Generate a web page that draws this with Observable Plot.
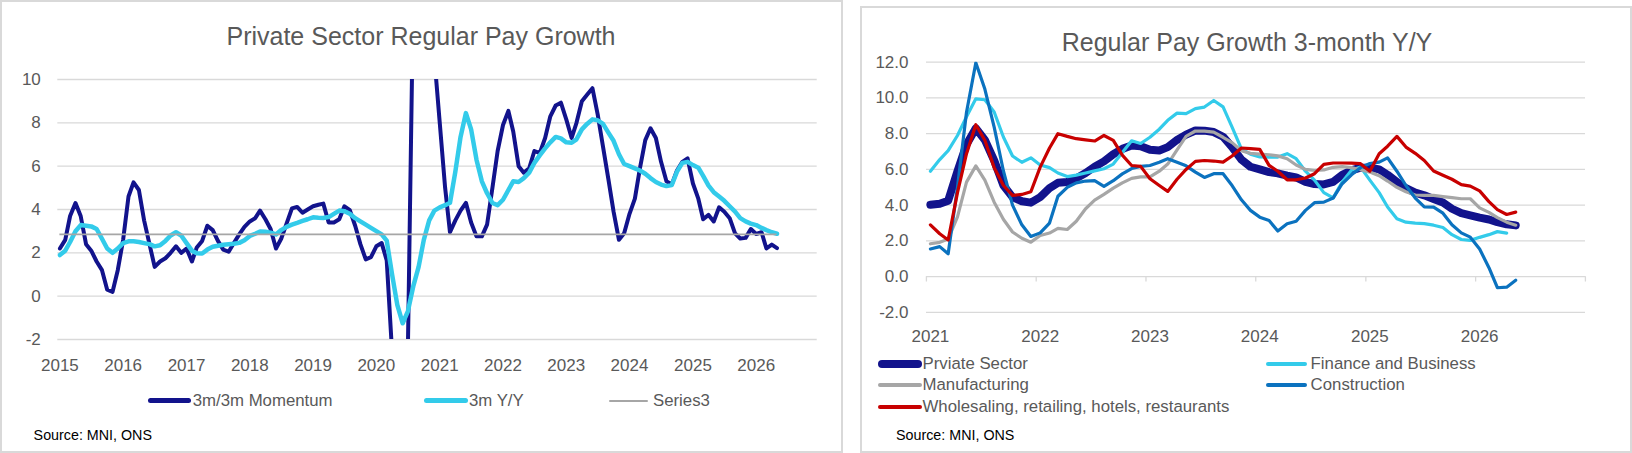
<!DOCTYPE html>
<html><head><meta charset="utf-8">
<script src="https://cdn.jsdelivr.net/npm/d3@7"></script>
<script src="https://cdn.jsdelivr.net/npm/@observablehq/plot@0.6"></script>
<style>
html,body{margin:0;padding:0;background:#fff;}
#page{position:relative;width:1632px;height:453px;overflow:hidden;font-family:"Liberation Sans",Arial,sans-serif;color:#595959;}
.panel{position:absolute;box-sizing:border-box;border:2px solid #d9d9d9;background:#fff;}
.abs{position:absolute;white-space:nowrap;}
.title{font-size:25px;line-height:30px;transform:translateX(-50%);}
.leg{font-size:16.8px;line-height:20px;}
.sw{position:absolute;border-radius:3px;}
.src{font-size:14.3px;line-height:20px;color:#000;}
#page svg{position:absolute;top:0;}
</style></head>
<body><div id="page">
<div class="panel" style="left:0;top:0;width:843px;height:453px"></div>
<div class="panel" style="left:860px;top:6px;width:772px;height:447px"></div>
<div id="leftPlot"></div>
<div id="rightPlot"></div>
<div class="abs title" style="left:421px;top:21px">Private Sector Regular Pay Growth</div>
<div class="abs title" style="left:1247px;top:27px">Regular Pay Growth 3-month Y/Y</div>
<div id="legends"></div>
</div>
<script>
// ---------- Left chart data (monthly, Jan 2015 – May 2026) ----------
const leftStart = [2015, 0];
const leftEnd = [2026, 4];
const momentum3m3m = [
 2.2,2.6,3.7,4.3,3.7,2.4,2.1,1.6,1.2,0.3,
 0.2,1.2,2.6,4.6,5.25,4.9,3.5,2.4,1.35,1.6,
 1.75,2.0,2.3,2.0,2.2,1.6,2.25,2.55,3.25,3.05,
 2.55,2.15,2.05,2.45,2.85,3.2,3.45,3.6,3.95,3.55,
 3.1,2.2,2.65,3.35,4.05,4.12,3.85,4.0,4.15,4.22,
 4.27,3.4,3.4,3.55,4.15,3.97,3.25,2.4,1.7,1.8,
 2.3,2.45,1.65,-2.6,-8,-10,-2.5,14,19,21,
 16,11,8.0,5.0,2.95,3.5,3.95,4.31,3.4,2.76,
 2.76,3.3,5.0,6.7,7.9,8.55,7.6,6.0,5.7,5.9,
 6.7,6.6,7.3,8.3,8.8,8.93,8.16,7.3,8.0,9.0,
 9.3,9.6,8.4,6.9,5.4,3.9,2.6,2.9,3.8,4.5,
 5.9,7.2,7.75,7.3,6.2,5.3,5.16,5.8,6.2,6.36,
 5.2,4.5,3.55,3.75,3.45,4.1,3.9,3.6,2.9,2.66,
 2.69,3.1,2.87,2.95,2.2,2.38,2.22];
const yoy3m = [
 1.9,2.1,2.5,3.0,3.28,3.25,3.22,3.1,2.65,2.2,
 2.0,2.2,2.45,2.53,2.53,2.5,2.45,2.4,2.3,2.35,
 2.55,2.8,2.95,2.8,2.45,2.1,1.98,1.97,2.15,2.28,
 2.33,2.37,2.4,2.42,2.46,2.58,2.78,2.88,2.98,2.97,
 2.93,2.85,3.05,3.2,3.3,3.38,3.47,3.55,3.64,3.62,
 3.61,3.65,3.8,3.95,3.92,3.8,3.6,3.45,3.3,3.15,
 3.0,2.85,2.56,1.0,-0.4,-1.25,-0.7,0.45,1.35,2.6,
 3.5,3.95,4.1,4.2,4.31,5.75,7.35,8.45,7.7,6.3,
 5.3,4.75,4.3,4.2,4.45,4.9,5.3,5.27,5.45,5.7,
 6.15,6.5,6.82,7.1,7.35,7.28,7.1,7.08,7.24,7.7,
 7.95,8.16,8.12,7.95,7.55,7.17,6.55,6.1,6.0,5.9,
 5.8,5.65,5.45,5.27,5.15,5.08,5.13,5.75,6.15,6.2,
 6.05,5.93,5.55,5.1,4.8,4.6,4.4,4.15,3.9,3.6,
 3.45,3.35,3.28,3.15,3.05,2.95,2.88];
const series3Value = 2.85;
const leftYTicks = [-2, 0, 2, 4, 6, 8, 10];
const leftXTickYears = [2015,2016,2017,2018,2019,2020,2021,2022,2023,2024,2025,2026];
const leftLegend = ["3m/3m Momentum", "3m Y/Y", "Series3"];

// ---------- Right chart data (monthly, Jan 2021 – May 2026) ----------
const rightStart = [2021, 0];
const rightEnd = [2026, 4];
const privateSector = [
 4.02,4.08,4.25,5.9,7.4,8.3,7.65,6.5,5.1,4.45,
 4.22,4.14,4.45,4.95,5.25,5.3,5.5,5.8,6.15,6.45,
 6.85,7.15,7.34,7.3,7.1,7.06,7.25,7.65,7.95,8.18,
 8.17,8.09,7.83,7.25,6.55,6.15,6.0,5.85,5.78,5.65,
 5.55,5.3,5.18,5.16,5.3,5.7,5.95,6.1,6.1,6.0,
 5.7,5.3,4.95,4.7,4.55,4.35,4.15,3.8,3.55,3.43,
 3.3,3.2,3.05,2.93,2.87];
const financeBusiness = [
 5.9,6.55,7.05,7.9,8.95,9.95,9.9,9.21,7.8,6.75,
 6.4,6.65,6.25,6.1,5.8,5.6,5.68,5.8,5.92,6.04,
 6.3,6.95,7.6,7.45,7.8,8.25,8.75,9.15,9.12,9.4,
 9.49,9.86,9.5,8.37,7.15,6.85,6.7,6.69,6.69,6.88,
 6.6,5.9,5.4,4.7,4.41,5.3,5.95,6.13,5.4,4.7,
 3.9,3.24,3.05,3.0,2.97,2.88,2.75,2.35,2.08,2.03,
 2.2,2.35,2.52,2.44];
const manufacturing = [
 1.84,1.92,2.1,3.35,5.29,6.2,5.4,4.17,3.2,2.5,
 2.15,1.93,2.3,2.44,2.7,2.64,3.1,3.8,4.28,4.6,
 4.95,5.25,5.5,5.58,5.58,5.9,6.3,7.1,7.85,8.15,
 8.14,8.09,7.8,7.5,7.05,6.9,6.86,6.82,6.76,6.6,
 6.25,6.0,5.95,5.97,6.12,6.16,6.1,5.98,5.85,5.65,
 5.35,5.0,4.75,4.57,4.55,4.55,4.48,4.42,4.36,4.36,
 3.85,3.6,3.3,3.05,2.88];
const construction = [
 1.55,1.68,1.28,5.0,9.2,11.97,10.5,8.37,5.9,4.0,
 2.9,2.25,2.45,3.0,4.5,5.0,5.25,5.35,5.37,5.05,
 5.37,5.75,6.05,6.17,6.22,6.4,6.6,6.4,6.2,5.85,
 5.55,5.76,5.76,5.1,4.3,3.71,3.33,3.14,2.55,2.96,
 3.1,3.71,4.14,4.17,4.4,5.2,5.7,6.1,6.33,6.41,
 6.65,5.9,5.1,4.4,3.9,3.89,3.55,2.9,2.45,2.21,
 1.55,0.5,-0.62,-0.59,-0.2];
const wholesaleRetail = [
 2.9,2.4,2.05,4.7,6.88,8.5,7.63,6.1,5.1,4.55,
 4.6,4.75,6.13,7.2,8.0,7.85,7.72,7.65,7.59,7.9,
 7.63,6.8,6.22,6.17,5.48,5.1,4.77,5.45,6.0,6.45,
 6.5,6.47,6.41,6.75,7.2,7.16,7.12,6.23,5.9,5.42,
 5.42,5.52,5.76,6.28,6.36,6.36,6.35,6.32,5.9,6.88,
 7.3,7.85,7.25,6.9,6.5,5.91,5.67,5.45,5.15,5.07,
 4.8,4.2,3.75,3.48,3.61];
const rightYTicks = [-2, 0, 2, 4, 6, 8, 10, 12];
const rightXTickYears = [2021,2022,2023,2024,2025,2026];
const rightSeriesNames = ["Prviate Sector","Finance and Business","Manufacturing","Construction","Wholesaling, retailing, hotels, restaurants"];

// ---------- colours ----------
const NAVY = "#12138C", CYAN = "#33CBEA", GREY = "#A6A6A6", BLUE = "#0B72BF", RED = "#C80000", GRID = "#D9D9D9", TXT = "#595959";
const FONT = '"Liberation Sans", Arial, sans-serif';

const utc = (y, m, d = 1) => new Date(Date.UTC(y, m, d));
const leftDates = d3.utcMonth.range(utc(...leftStart), d3.utcMonth.offset(utc(...leftEnd), 1));
const rightDates = d3.utcMonth.range(utc(...rightStart), d3.utcMonth.offset(utc(...rightEnd), 1));

const leftRows = leftDates.map((date, i) => ({date, momentum: momentum3m3m[i], yoy: yoy3m[i]}));
const series3Row = [{start: leftDates[0], end: leftDates[leftDates.length - 1], value: series3Value}];

const rightSeries = [
  {name: rightSeriesNames[0], values: privateSector, color: NAVY, width: 8},
  {name: rightSeriesNames[1], values: financeBusiness, color: CYAN, width: 3.2},
  {name: rightSeriesNames[2], values: manufacturing, color: GREY, width: 3.2},
  {name: rightSeriesNames[3], values: construction, color: BLUE, width: 3.2},
  {name: rightSeriesNames[4], values: wholesaleRetail, color: RED, width: 3.2}
];

// ---------- Left plot ----------
const leftPlot = Plot.plot({
  width: 843, height: 453,
  marginLeft: 57.3, marginRight: 26.3, marginTop: 79, marginBottom: 114,
  style: {fontFamily: FONT, fontSize: "17px", color: TXT, background: "transparent", overflow: "visible"},
  x: {type: "utc", domain: [utc(2014, 11, 20), utc(2026, 11, 19)], ticks: leftXTickYears.map(y => utc(y, 0)),
      tickFormat: d => String(d.getUTCFullYear()), tickSize: 0, tickPadding: 19, label: null},
  y: {domain: [-2, 10], ticks: leftYTicks, tickFormat: d => String(d), tickSize: 0, tickPadding: 17, label: null},
  marks: [
    Plot.ruleY(leftYTicks, {stroke: GRID, strokeWidth: 1.3}),
    Plot.lineY(leftRows, {x: "date", y: "momentum", stroke: NAVY, strokeWidth: 4, clip: true, strokeLinejoin: "round"}),
    Plot.lineY(leftRows, {x: "date", y: "yoy", stroke: CYAN, strokeWidth: 4.5, clip: true, strokeLinejoin: "round"}),
    Plot.ruleY(series3Row, {x1: "start", x2: "end", y: "value", stroke: GREY, strokeWidth: 1.7})
  ]
});
leftPlot.style.left = "0px";
document.getElementById("leftPlot").appendChild(leftPlot);

// ---------- Right plot ----------
const rightLines = rightSeries.map(s => Plot.lineY(s.values.map((v, i) => ({date: rightDates[i], v})),
  {x: "date", y: "v", stroke: s.color, strokeWidth: s.width, clip: true, strokeLinejoin: "round"}));
const rightPlot = Plot.plot({
  width: 772, height: 453,
  marginLeft: 66, marginRight: 47, marginTop: 61.7, marginBottom: 141.1,
  style: {fontFamily: FONT, fontSize: "17px", color: TXT, background: "transparent", overflow: "visible"},
  x: {type: "utc", domain: [utc(2020, 11, 19), utc(2026, 11, 19)], ticks: rightXTickYears.map(y => utc(y, 0)),
      tickFormat: d => String(d.getUTCFullYear()), tickSize: 0, tickPadding: 18, label: null},
  y: {domain: [-2, 12], ticks: rightYTicks, tickFormat: d => d.toFixed(1), tickSize: 0, tickPadding: 18, label: null},
  marks: [
    Plot.ruleY(rightYTicks, {stroke: GRID, strokeWidth: 1.3}),
    Plot.ruleX(rightXTickYears.concat([2027]).map(y => utc(y, 0)), {x: d => d, y1: 0, y2: -0.3, dx: -4, stroke: GRID, strokeWidth: 1.3}),
    ...rightLines
  ]
});
rightPlot.style.left = "860px";
document.getElementById("rightPlot").appendChild(rightPlot);

// ---------- Legends & sources (HTML) ----------
const L = document.getElementById("legends");
function item(x0, x1, yc, h, color, label, textX) {
  const sw = document.createElement("div");
  sw.className = "sw";
  Object.assign(sw.style, {left: x0 + "px", width: (x1 - x0) + "px", top: (yc - h / 2) + "px", height: h + "px", background: color, borderRadius: (h / 2) + "px"});
  L.appendChild(sw);
  const t = document.createElement("div");
  t.className = "abs leg";
  t.textContent = label;
  Object.assign(t.style, {left: textX + "px", top: (yc - 10) + "px"});
  L.appendChild(t);
}
function source(x, yc, text) {
  const t = document.createElement("div");
  t.className = "abs src";
  t.textContent = text;
  Object.assign(t.style, {left: x + "px", top: (yc - 10) + "px"});
  L.appendChild(t);
}
item(148, 191, 400.7, 5, NAVY, leftLegend[0], 192.7);
item(423.5, 467.5, 400.7, 5, CYAN, leftLegend[1], 469);
item(608.5, 648, 400.7, 2, GREY, leftLegend[2], 653);
source(33.6, 435, "Source: MNI, ONS");

item(878, 921.7, 364, 8, NAVY, rightSeriesNames[0], 922.5);
item(1265.6, 1307, 364, 4, CYAN, rightSeriesNames[1], 1310.6);
item(878, 921.7, 385, 4, GREY, rightSeriesNames[2], 922.5);
item(1265.6, 1307, 385, 4, BLUE, rightSeriesNames[3], 1310.6);
item(878, 921.7, 406.7, 4, RED, rightSeriesNames[4], 922.5);
source(896, 435, "Source: MNI, ONS");
</script>
</body></html>
